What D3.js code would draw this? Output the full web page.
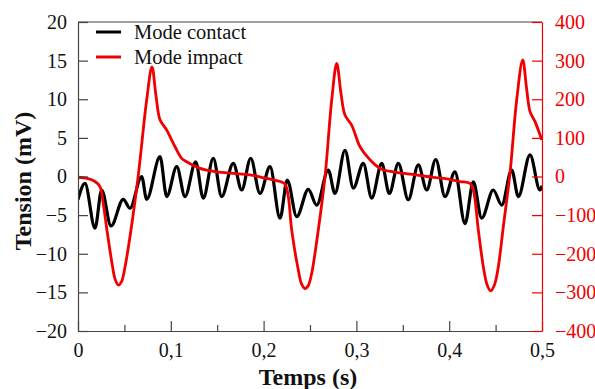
<!DOCTYPE html>
<html>
<head>
<meta charset="utf-8">
<script src="https://cdn.jsdelivr.net/npm/d3@7"></script>
<style>
  html, body { margin: 0; padding: 0; background: #fff; }
  svg, svg text { font-family: "Liberation Serif", "Times New Roman", Times, "DejaVu Serif", serif !important; }
</style>
</head>
<body>
<svg id="chart" width="595" height="389"></svg>
<script>
// ---- Data ----
const seriesNames = ["Mode contact", "Mode impact"];
const xTicks = [0, 0.1, 0.2, 0.3, 0.4, 0.5];
const xMinorTicks = [0.05, 0.15, 0.25, 0.35, 0.45];
const leftTicks = [-20, -15, -10, -5, 0, 5, 10, 15, 20];
const rightTicks = [-400, -300, -200, -100, 0, 100, 200, 300, 400];

// Mode contact (left axis, mV): time (s)
const contactT = [0, 0.0075, 0.0183, 0.0255, 0.0356, 0.0488, 0.056, 0.0686, 0.074, 0.0884,
  0.0956, 0.1064, 0.1153, 0.1268, 0.135, 0.1458, 0.1548, 0.1673, 0.1764, 0.1861,
  0.1961, 0.2069, 0.2177, 0.2255, 0.2357, 0.2482, 0.2572, 0.2697, 0.2769, 0.2877,
  0.2967, 0.3074, 0.3165, 0.3273, 0.3355, 0.3452, 0.3559, 0.3667, 0.3758, 0.3855,
  0.3955, 0.4062, 0.417, 0.426, 0.435, 0.4475, 0.4566, 0.4673, 0.4745, 0.4871,
  0.4978, 0.5];
const contactV = [-3.0, -0.9, -6.7, -1.75, -6.4, -2.95, -4.1, 0, -2.95, 2.56,
  -2.6, 1.27, -2.6, 1.9, -2.8, 2.36, -2.6, 1.7, -1.75, 2.36,
  -2.2, 1.27, -5.4, -0.45, -5.2, -1.66, -3.7, 0.84, -2.2, 3.4,
  -1.5, 1.7, -2.8, 1.7, -2.2, 1.7, -3.0, 1.5, -1.75, 2.2,
  -2.6, 0.6, -6.1, -0.7, -5.4, -1.75, -3.7, 0.84, -2.6, 2.8,
  -1.75, -1.2];

// Mode impact (right axis): time (s)
const impactT = [0, 0.01, 0.0183, 0.0237, 0.0275, 0.0312, 0.037, 0.0399, 0.0434, 0.0469,
  0.0506, 0.056, 0.065, 0.074, 0.0797, 0.084, 0.0884, 0.0956, 0.1027, 0.1117,
  0.1171, 0.1315, 0.1495, 0.1673, 0.1853, 0.2033, 0.2177, 0.2231, 0.2266, 0.2303,
  0.2374, 0.2409, 0.2446, 0.2482, 0.2518, 0.2589, 0.2662, 0.2734, 0.2788, 0.2834,
  0.2877, 0.2949, 0.3039, 0.3147, 0.3254, 0.3398, 0.3578, 0.3758, 0.3936, 0.4116,
  0.4224, 0.426, 0.4314, 0.4368, 0.4408, 0.4447, 0.4488, 0.4529, 0.4583, 0.4655,
  0.4727, 0.4792, 0.4833, 0.4871, 0.4925, 0.4997];
const impactV = [-2, -5, -13, -26, -75, -139, -230, -265, -281, -272,
  -235, -156, 4, 198, 284, 210, 147, 120, 86, 47,
  38, 21, 12, 8, 4, -5, -13, -20, -52, -139,
  -242, -278, -290, -282, -251, -139, 0, 198, 293, 215,
  159, 133, 77, 43, 21, 12, 6, 0, -5, -13,
  -18, -35, -139, -234, -280, -296, -280, -234, -130, 8,
  198, 302, 230, 168, 142, 95];

// ---- Layout ----
const FONT = "'Liberation Serif', 'Times New Roman', Times, 'DejaVu Serif', serif";
const svg = d3.select("#chart");
const L = 78, R = 542, T = 22, B = 331;
const x = d3.scaleLinear().domain([0, 0.5]).range([L, R]);
const yL = d3.scaleLinear().domain([-20, 20]).range([B, T]);
const yR = d3.scaleLinear().domain([-400, 400]).range([B, T]);
const red = "#f00000";
const fmtX = d => d === 0 ? "0" : d3.format(".1f")(d).replace(".", ",");

// top border
svg.append("line").attr("x1", L).attr("x2", R).attr("y1", T).attr("y2", T)
  .attr("stroke", "#444").attr("stroke-width", 1.2);

// data lines (clipped)
svg.append("clipPath").attr("id", "clip").append("rect")
  .attr("x", L).attr("y", T).attr("width", R - L).attr("height", B - T);
const g = svg.append("g").attr("clip-path", "url(#clip)");

const contact = contactT.map((t, i) => [t, contactV[i]]);
const impact = impactT.map((t, i) => [t, impactV[i]]);

g.append("path").datum(contact)
  .attr("fill", "none").attr("stroke", "#000").attr("stroke-width", 3.2)
  .attr("stroke-linejoin", "round")
  .attr("d", d3.line().x(d => x(d[0])).y(d => yL(d[1])).curve(d3.curveMonotoneX));

g.append("path").datum(impact)
  .attr("fill", "none").attr("stroke", red).attr("stroke-width", 2.8)
  .attr("stroke-linejoin", "round")
  .attr("d", d3.line().x(d => x(d[0])).y(d => yR(d[1])).curve(d3.curveCatmullRom.alpha(0.5)));

// axes
function styleText(sel, color) {
  sel.selectAll("text").attr("font-size", 20).attr("fill", color)
    .attr("font-family", null).style("font-family", FONT);
}
const axL = svg.append("g").attr("transform", `translate(${L},0)`)
  .call(d3.axisLeft(yL).tickValues(leftTicks).tickSizeInner(-10).tickSizeOuter(0).tickPadding(11));
axL.attr("font-family", null);
axL.select(".domain").attr("stroke", "#444").attr("stroke-width", 1.2);
axL.selectAll(".tick line").attr("stroke", "#444").attr("stroke-width", 1.2);
styleText(axL, "#111");

const axB = svg.append("g").attr("transform", `translate(0,${B})`)
  .call(d3.axisBottom(x).tickValues(xTicks).tickFormat(fmtX).tickSizeInner(-10).tickSizeOuter(0).tickPadding(12));
axB.attr("font-family", null);
axB.select(".domain").attr("stroke", "#444").attr("stroke-width", 1.2);
axB.selectAll(".tick line").attr("stroke", "#444").attr("stroke-width", 1.2);
styleText(axB, "#111");

const axBm = svg.append("g").attr("transform", `translate(0,${B})`)
  .call(d3.axisBottom(x).tickValues(xMinorTicks).tickFormat("").tickSizeInner(-6).tickSizeOuter(0));
axBm.select(".domain").remove();
axBm.selectAll(".tick line").attr("stroke", "#444").attr("stroke-width", 1.2);

const axR = svg.append("g").attr("transform", `translate(${R},0)`)
  .call(d3.axisRight(yR).tickValues(rightTicks).tickSizeInner(-10).tickSizeOuter(0).tickPadding(13));
axR.attr("font-family", null);
axR.select(".domain").attr("stroke", red).attr("stroke-width", 1.2);
axR.selectAll(".tick line").attr("stroke", red).attr("stroke-width", 1.2);
styleText(axR, red);

// axis titles
svg.append("text").attr("transform", "translate(31,181) rotate(-90)")
  .attr("text-anchor", "middle").attr("font-size", 24).attr("font-weight", "bold")
  .style("font-family", FONT).attr("fill", "#111").text("Tension (mV)");
svg.append("text").attr("x", 308).attr("y", 385)
  .attr("text-anchor", "middle").attr("font-size", 24).attr("font-weight", "bold")
  .style("font-family", FONT).attr("fill", "#111").text("Temps (s)");

// legend
const legColors = ["#000", red];
const legY = [32, 57];
seriesNames.forEach((name, i) => {
  svg.append("line").attr("x1", 96).attr("x2", 121).attr("y1", legY[i]).attr("y2", legY[i])
    .attr("stroke", legColors[i]).attr("stroke-width", 3);
  svg.append("text").attr("x", 134).attr("y", legY[i] + 6.5)
    .attr("font-size", 20.5).style("font-family", FONT).attr("fill", "#111").text(name);
});
</script>
</body>
</html>
